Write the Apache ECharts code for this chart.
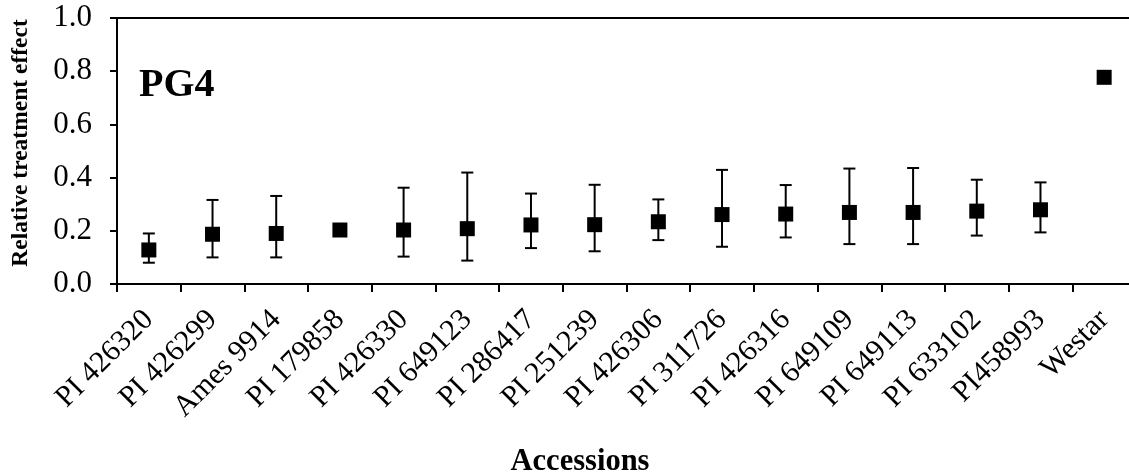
<!DOCTYPE html>
<html>
<head>
<meta charset="utf-8">
<script src="https://cdn.jsdelivr.net/npm/echarts@6/dist/echarts.min.js"></script>
<style>
  html, body { margin: 0; padding: 0; background: #fff; }
  #pg4_chart { width: 1129px; height: 475px; }
</style>
</head>
<body>
<div id="pg4_chart"></div>
<script>
// accessions on the x axis
var accessions = ['PI 426320', 'PI 426299', 'Ames 9914', 'PI 179858', 'PI 426330', 'PI 649123',
  'PI 286417', 'PI 251239', 'PI 426306', 'PI 311726', 'PI 426316', 'PI 649109', 'PI 649113',
  'PI 633102', 'PI458993', 'Westar']
// relative treatment effect (point estimate)
var effect = [0.128, 0.187, 0.190, 0.203, 0.203, 0.208, 0.222, 0.223, 0.234, 0.261, 0.263,
  0.269, 0.269, 0.274, 0.279, 0.777]
// confidence limits (null = no error bar)
var lower = [0.080, 0.100, 0.100, null, 0.103, 0.088, 0.135, 0.123, 0.165, 0.140, 0.175,
  0.150, 0.150, 0.182, 0.194, null]
var upper = [0.190, 0.316, 0.331, null, 0.362, 0.419, 0.340, 0.373, 0.318, 0.429, 0.372,
  0.434, 0.436, 0.392, 0.382, null]
var yTicks = [0, 0.2, 0.4, 0.6, 0.8, 1.0]

var serif = "'Liberation Serif', 'Times New Roman', serif"

var errData = []
for (var i = 0; i < accessions.length; i++) {
  if (lower[i] !== null) errData.push([i, lower[i], upper[i]])
}

var chart = echarts.init(document.getElementById('pg4_chart'))
chart.setOption({
  animation: false,
  textStyle: { fontFamily: serif, color: '#000' },
  grid: {
    left: 117,
    right: -7,
    top: 18,
    bottom: 191,
    outerBoundsMode: 'none',
    containLabel: false,
    show: true,
    borderColor: '#000',
    borderWidth: 2
  },
  xAxis: {
    type: 'category',
    data: accessions,
    axisLine: { lineStyle: { color: '#000', width: 2 } },
    axisTick: { show: true, length: 8, lineStyle: { color: '#000', width: 2 } },
    axisLabel: {
      rotate: 45,
      interval: 0,
      margin: 31,
      fontSize: 30,
      color: '#000',
      fontFamily: serif,
      hideOverlap: false
    },
    splitLine: { show: false }
  },
  yAxis: {
    type: 'value',
    min: yTicks[0],
    max: yTicks[yTicks.length - 1],
    interval: 0.2,
    axisLine: { show: true, lineStyle: { color: '#000', width: 2 } },
    axisTick: { show: true, length: 7, lineStyle: { color: '#000', width: 2 } },
    axisLabel: {
      fontSize: 31,
      margin: 25,
      color: '#000',
      fontFamily: serif,
      formatter: function(v) { return v.toFixed(1) }
    },
    splitLine: { show: false }
  },
  graphic: [
    {
      type: 'text',
      x: 21,
      y: 143,
      rotation: Math.PI / 2,
      style: {
        text: 'Relative treatment effect',
        font: 'bold 23.5px ' + serif,
        fill: '#000',
        align: 'center',
        verticalAlign: 'middle'
      }
    },
    {
      type: 'text',
      x: 139,
      y: 86,
      style: { text: 'PG4', font: 'bold 40px ' + serif, fill: '#000', verticalAlign: 'middle' }
    },
    {
      type: 'text',
      x: 580,
      y: 462,
      style: {
        text: 'Accessions',
        font: 'bold 30.5px ' + serif,
        fill: '#000',
        align: 'center',
        verticalAlign: 'middle'
      }
    }
  ],
  series: [
    {
      type: 'custom',
      data: errData,
      z: 2,
      renderItem: function(params, api) {
        var x = api.value(0)
        var lo = api.coord([x, api.value(1)])
        var hi = api.coord([x, api.value(2)])
        var cap = 6
        var style = { stroke: '#000', lineWidth: 2 }
        return {
          type: 'group',
          children: [
            { type: 'line', shape: { x1: lo[0], y1: lo[1], x2: hi[0], y2: hi[1] }, style: style },
            { type: 'line', shape: { x1: hi[0] - cap, y1: hi[1], x2: hi[0] + cap, y2: hi[1] }, style: style },
            { type: 'line', shape: { x1: lo[0] - cap, y1: lo[1], x2: lo[0] + cap, y2: lo[1] }, style: style }
          ]
        }
      }
    },
    {
      type: 'scatter',
      data: effect,
      z: 3,
      symbol: 'rect',
      symbolSize: 15,
      itemStyle: { color: '#000', opacity: 1 }
    }
  ]
})
</script>
</body>
</html>
